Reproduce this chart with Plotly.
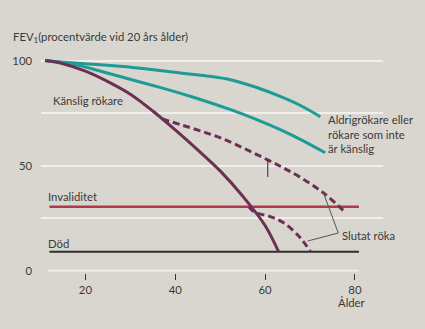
import plotly.graph_objects as go

# --- Data ---
never_age = [11, 15.2, 28.4, 41.5, 47, 52.5, 58, 63.5, 68, 72.3]
never_fev = [100, 99.2, 97.2, 94.0, 92.7, 90.8, 87.3, 82.8, 78.5, 73.3]

insens_age = [11, 17.4, 24, 30.5, 37, 43.7, 52.5, 58, 63.5, 68.5, 73.4]
insens_fev = [100, 98.2, 94.6, 90.8, 87.0, 82.8, 76.5, 72.0, 67.0, 61.8, 56.1]

sens_age = [11, 15, 20, 25, 30, 35, 40, 45, 50, 55, 60, 63]
sens_fev = [100, 98.5, 95, 90, 84, 76, 67, 57.5, 47.5, 35.5, 21.5, 9.0]

quit1_age = [37.1, 41.5, 50.3, 60.6, 67.0, 73.0, 78.0]
quit1_fev = [72.2, 69.3, 63.0, 52.7, 45.5, 37.0, 27.4]

quit2_age = [56.4, 57.6, 61.0, 64.2, 67.9, 70.1]
quit2_fev = [30.4, 27.9, 25.8, 22.7, 15.5, 9.0]

invalidity_level = 30.4
death_level = 9.0
line_start_age = 12.0
line_end_age = 80.9

x_ticks = [20, 40, 60, 80]
y_ticks = [0, 50, 100]
y_grid = [25, 50, 75, 100]

BG = "#d9d6d0"
GRID = "#f1efeb"
TEAL = "#1c9c95"
PLUM = "#6c3152"
RED = "#b2394a"
TXT = "#3a3a3a"
FONT = "Lato"
FS = 11.3

fig = go.Figure()

# horizontal reference lines
fig.add_trace(go.Scatter(x=[line_start_age - 0.4, line_end_age], y=[0, 0], mode="lines",
                         line=dict(color=GRID, width=1.6), hoverinfo="skip"))
fig.add_trace(go.Scatter(x=[line_start_age, line_end_age], y=[invalidity_level] * 2, mode="lines",
                         line=dict(color=RED, width=2.5), hoverinfo="skip"))
fig.add_trace(go.Scatter(x=[line_start_age, line_end_age], y=[death_level] * 2, mode="lines",
                         line=dict(color="#2e2e2e", width=2), hoverinfo="skip"))

for ax, ay in [(never_age, never_fev), (insens_age, insens_fev)]:
    fig.add_trace(go.Scatter(x=ax, y=ay, mode="lines", line=dict(color=TEAL, width=3, shape="spline"),
                             hoverinfo="skip"))

fig.add_trace(go.Scatter(x=sens_age, y=sens_fev, mode="lines",
                         line=dict(color=PLUM, width=3, shape="spline"), hoverinfo="skip"))
for ax, ay in [(quit1_age, quit1_fev), (quit2_age, quit2_fev)]:
    fig.add_trace(go.Scatter(x=ax, y=ay, mode="lines",
                             line=dict(color=PLUM, width=3, shape="spline", dash="7px,4px"),
                             hoverinfo="skip"))

# small vertical mark and leader lines
fig.add_trace(go.Scatter(x=[60.6, 60.6], y=[52.7, 44.6], mode="lines",
                         line=dict(color="#2e2e2e", width=1), hoverinfo="skip"))
fig.add_trace(go.Scatter(x=[73.0, 76.3, 69.5], y=[37.0, 17.9, 14.1], mode="lines",
                         line=dict(color="#555555", width=1), hoverinfo="skip"))

ann = dict(showarrow=False, font=dict(family=FONT, size=FS, color=TXT), xanchor="left", xshift=-3)
annotations = [
    dict(text="FEV<sub>1</sub>(procentvärde vid 20 års ålder)", xref="paper", yref="paper",
         x=-0.078, y=1.054, yanchor="middle", **ann),
    dict(text="Känslig rökare", xref="x", yref="y", x=12.9, y=81.2, yanchor="middle", **ann),
    dict(text="Aldrigrökare eller<br>rökare som inte<br>är känslig", xref="x", yref="y",
         x=74.2, y=65, yanchor="middle", align="left", **ann),
    dict(text="Invaliditet", xref="x", yref="y", x=11.8, y=35.5, yanchor="middle", **ann),
    dict(text="Död", xref="x", yref="y", x=11.8, y=13.1, yanchor="middle", **ann),
    dict(text="Slutat röka", xref="x", yref="y", x=77.3, y=16.5, yanchor="middle", **ann),
    dict(text="Ålder", xref="x", yref="paper", x=79.4, y=-0.1345, showarrow=False,
         xanchor="center", yanchor="middle", font=dict(family=FONT, size=FS, color=TXT)),
]

fig.update_layout(
    width=425, height=329,
    margin=dict(l=37, r=42, t=50, b=56),
    paper_bgcolor=BG, plot_bgcolor=BG,
    showlegend=False,
    font=dict(family=FONT, size=FS, color=TXT),
    annotations=annotations,
    xaxis=dict(range=[10.11, 86.26], tickvals=x_ticks, ticks="outside", ticklen=6,
               tickcolor="#333333", tickwidth=1, showgrid=False, zeroline=False,
               showline=False, tickfont=dict(family=FONT, size=FS, color=TXT)),
    yaxis=dict(range=[-1.14, 105.05], tickvals=y_ticks, showgrid=False, zeroline=False,
               showline=False, ticks="", ticklabelstandoff=8,
               tickfont=dict(family=FONT, size=FS, color=TXT),
               minor=dict(tickvals=y_grid, showgrid=True, gridcolor=GRID, gridwidth=1.6)),
)

fig.write_html("out.html")
